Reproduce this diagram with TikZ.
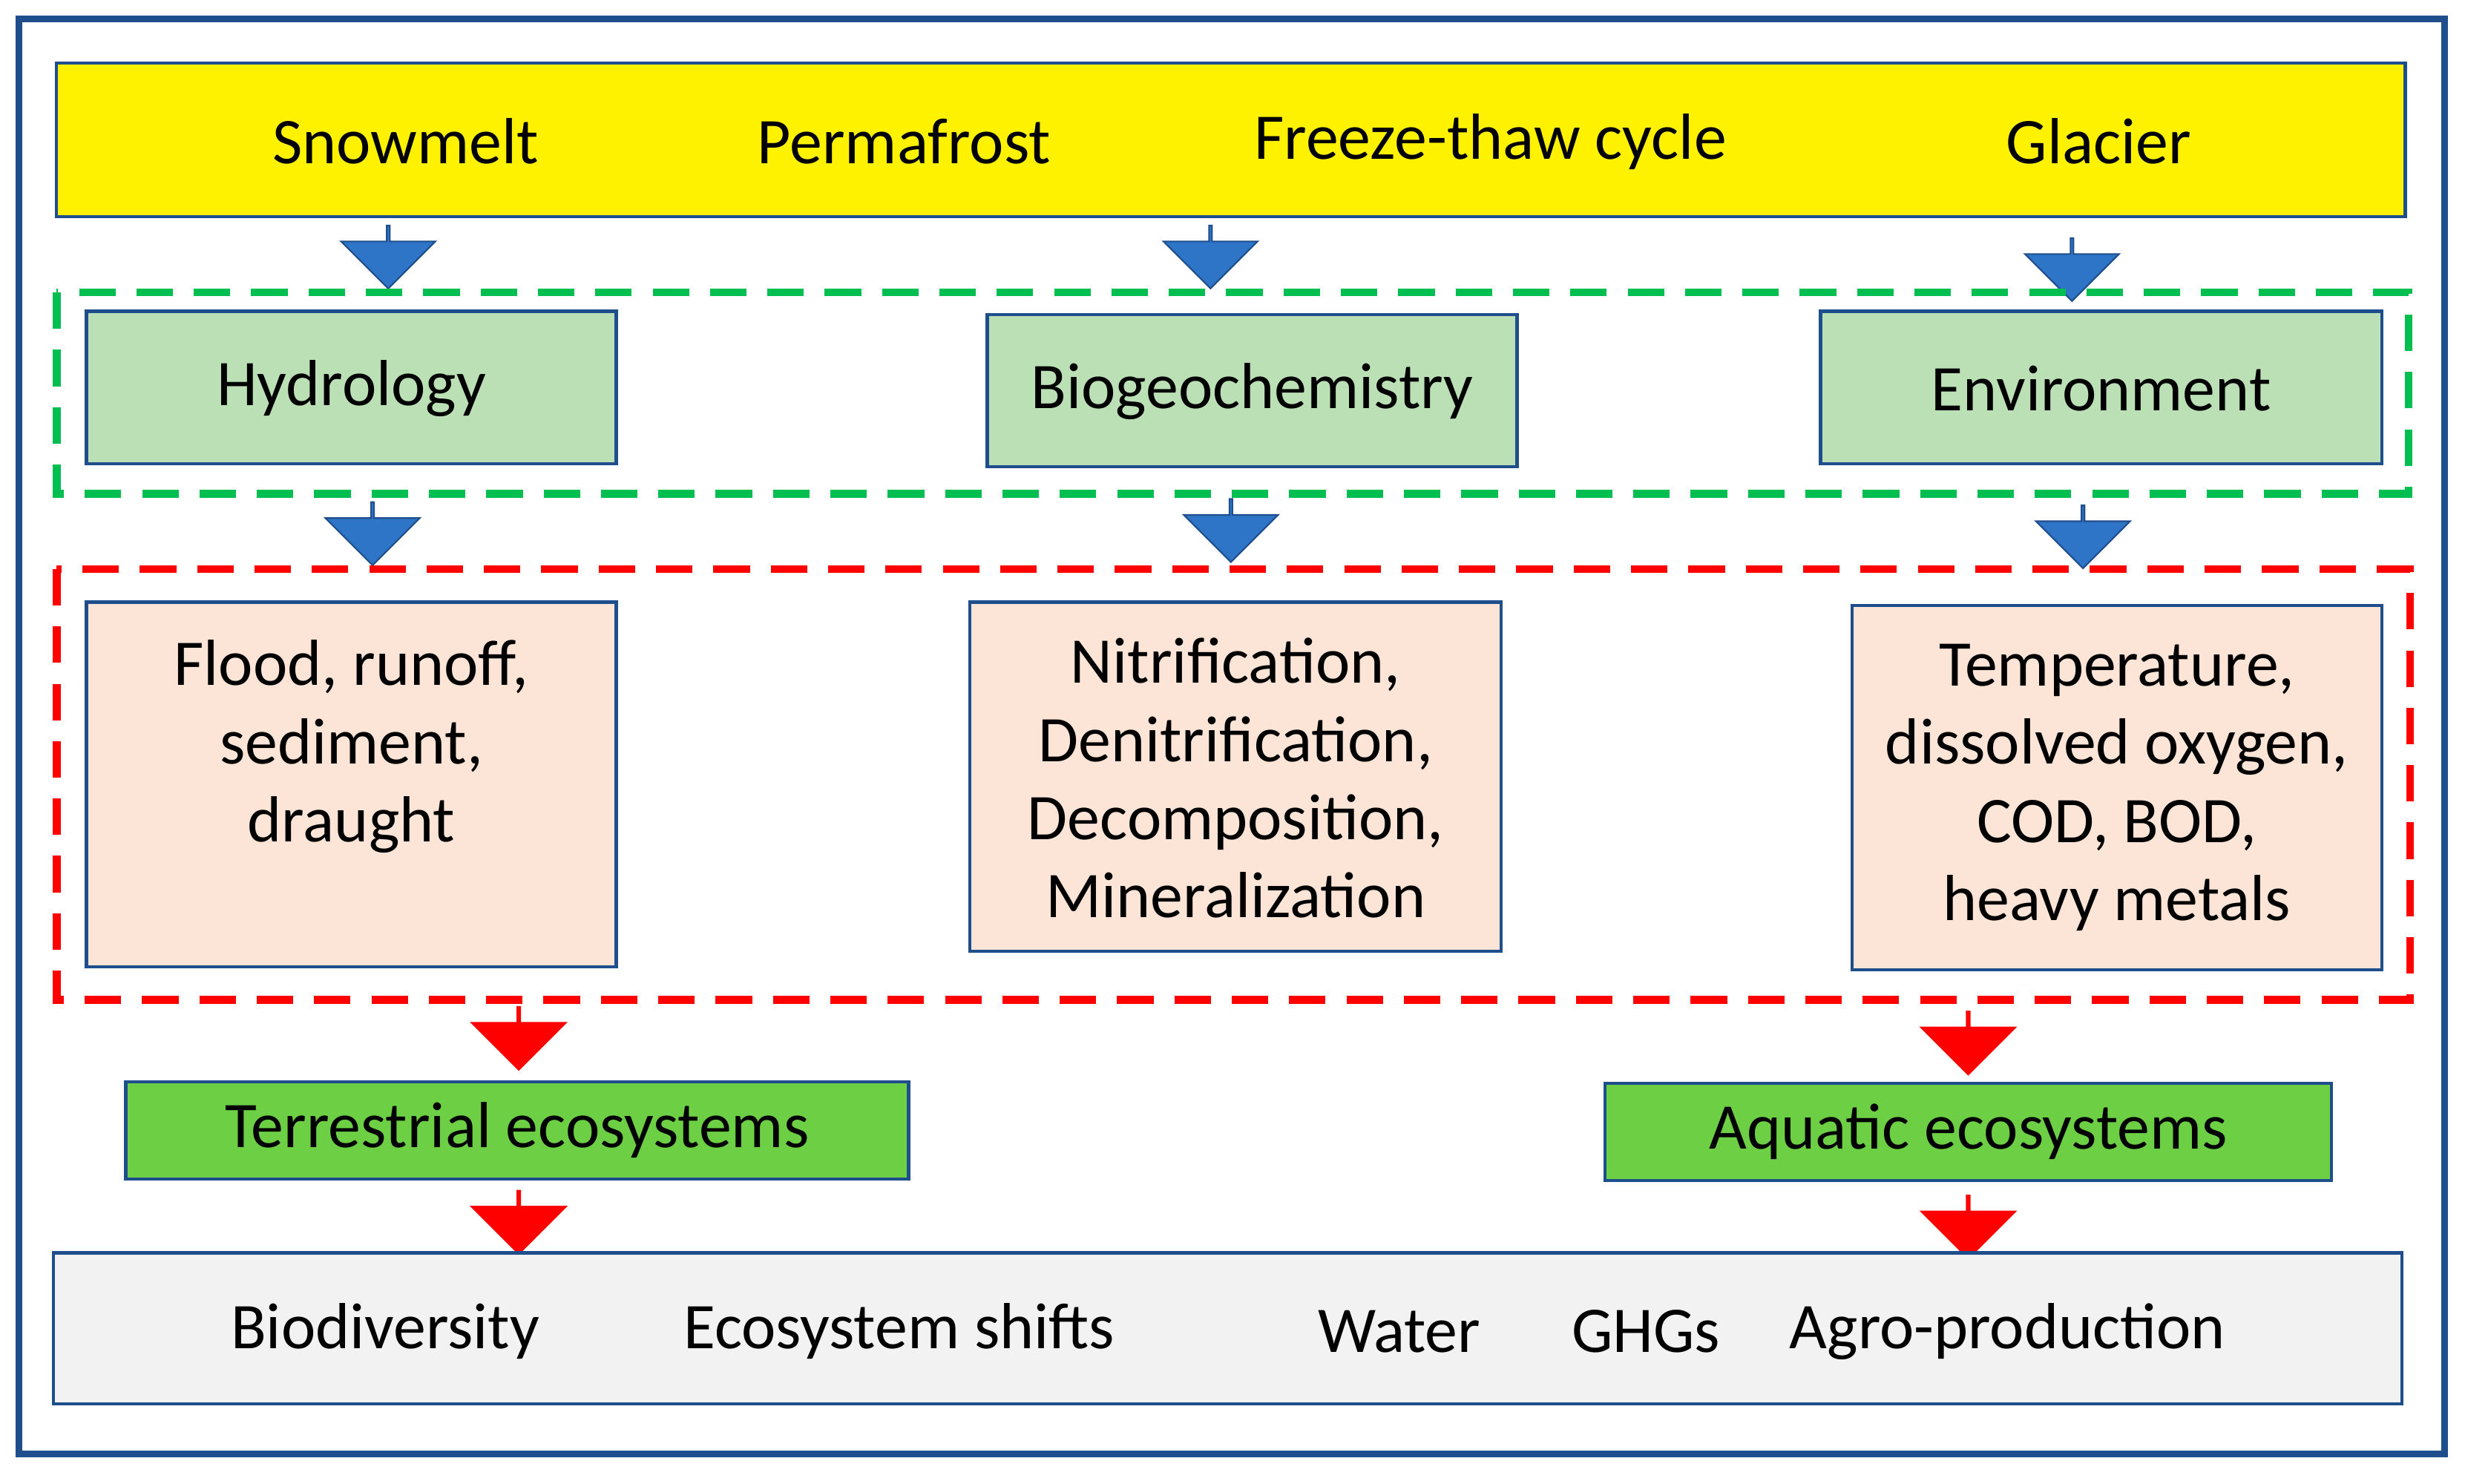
\documentclass[tikz,border=0pt]{standalone}
\usepackage{fontspec}
\setmainfont{Carlito}
\usetikzlibrary{shapes.arrows}
\definecolor{frameblue}{RGB}{31,78,140}
\definecolor{arrblue}{RGB}{46,117,200}
\definecolor{lgreen}{RGB}{187,224,182}
\definecolor{dgreen}{RGB}{108,207,68}
\definecolor{peach}{RGB}{252,228,214}
\definecolor{dashgreen}{RGB}{0,190,80}
\begin{document}
\begin{tikzpicture}[x=0.02119cm,y=-0.02119cm,
  txt/.style={font=\fontsize{25}{30}\selectfont,align=center,inner sep=0},
  box/.style={draw=frameblue,line width=1.2pt},
  barr/.style={single arrow,shape border rotate=270,inner sep=0,minimum height=0.85cm,minimum width=1.27cm,single arrow head extend=0.32cm,fill=arrblue,draw=frameblue,line width=0.6pt},
  rarr/.style={barr,fill=red,draw=red}]
\useasboundingbox (0,0) rectangle (1568,944);
\fill[white] (0,0) rectangle (1568,944);
\draw[frameblue,line width=2.5pt] (12,12) rectangle (1555,925);
% top bar
\draw[box,fill=yellow] (36,40) rectangle (1530,138);
\node[txt] (snow) at (258,90) {Snowmelt};
\node[txt] (perm) at (575,90) {Permafrost};
\node[txt] (ft) at (948,90) {Freeze-thaw cycle};
\node[txt] (gla) at (1335,90) {Glacier};
% arrows row 1
\node[barr] (a1) at (247,163) {};
\node[barr] (a2) at (770,163) {};
\node[barr] (a3) at (1318,171) {};
% green dashed
\draw[dashgreen,line width=3pt,dash pattern=on 14pt off 8pt] (36,186) rectangle (1532,314);
\draw[box,fill=lgreen] (55,198) rectangle (392,295);
\node[txt] (hyd) at (223.5,247) {Hydrology};
\draw[box,fill=lgreen] (628,200) rectangle (965,297);
\node[txt] (bio) at (796.5,249) {Biogeochemistry};
\draw[box,fill=lgreen] (1158,198) rectangle (1515,295);
\node[txt] (env) at (1336.5,247) {Environment};
% arrows row 2
\node[barr] (b1) at (237,339) {};
\node[barr] (b2) at (783,337) {};
\node[barr] (b3) at (1325,341) {};
% red dashed
\draw[red,line width=3pt,dash pattern=on 14pt off 8pt] (36,362) rectangle (1533,636);
\draw[box,fill=peach] (55,383) rectangle (392,615);
\node[txt] (p1) at (223.5,475) {Flood, runoff,\\sediment,\\draught};
\draw[box,fill=peach] (617,383) rectangle (955,605);
\node[txt] (p2) at (786,495) {Nitrification,\\Denitrification,\\Decomposition,\\Mineralization};
\draw[box,fill=peach] (1178,385) rectangle (1515,617);
\node[txt] (p3) at (1346.5,501) {Temperature,\\dissolved oxygen,\\COD, BOD,\\heavy metals};
% red arrows
\node[rarr] (c1) at (330,660) {};
\node[rarr] (c2) at (1252,663) {};
\draw[box,fill=dgreen] (80,688) rectangle (578,750);
\node[txt] (ter) at (329,719) {Terrestrial ecosystems};
\draw[box,fill=dgreen] (1021,689) rectangle (1483,751);
\node[txt] (aq) at (1252,720) {Aquatic ecosystems};
\node[rarr] (d1) at (330,777) {};
\node[rarr] (d2) at (1252,780) {};
% bottom
\draw[box,fill=black!5] (34,797) rectangle (1528,893);
\node[txt] (bd) at (245,847) {Biodiversity};
\node[txt] (es) at (572,847) {Ecosystem shifts};
\node[txt] (wa) at (890,847) {Water};
\node[txt] (gh) at (1047,847) {GHGs};
\node[txt] (ag) at (1277,847) {Agro-production};
\end{tikzpicture}
\end{document}
